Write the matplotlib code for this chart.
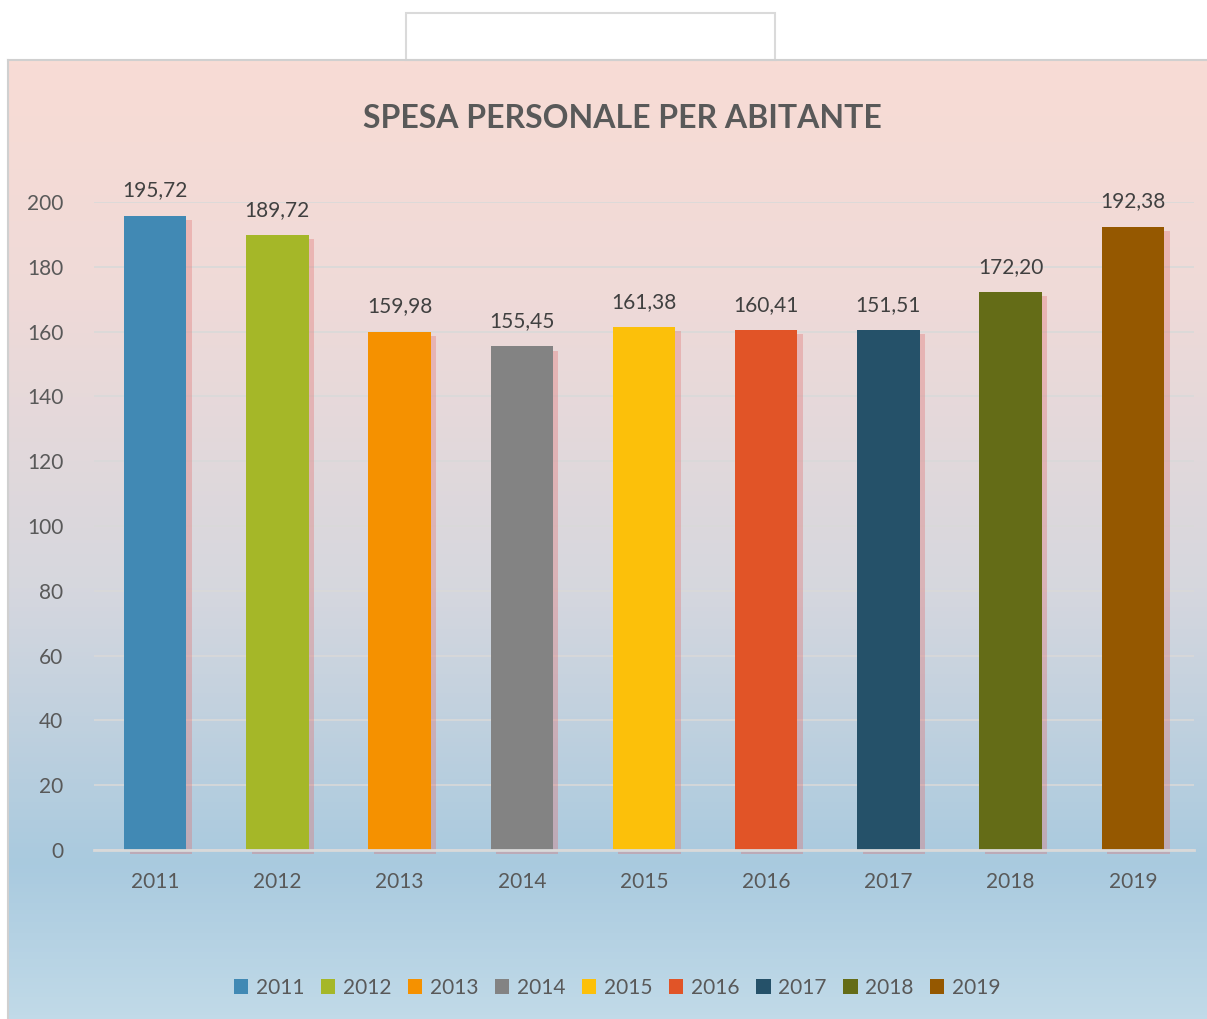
import numpy as np
import matplotlib
matplotlib.use("Agg")
import matplotlib.pyplot as plt
import matplotlib.patheffects as pe
from matplotlib.colors import LinearSegmentedColormap
from matplotlib.patches import Rectangle, Patch

plt.rcParams['font.family'] = ['Lato', 'DejaVu Sans']

# ---- data ----
years = ["2011", "2012", "2013", "2014", "2015", "2016", "2017", "2018", "2019"]
values = [195.72, 189.72, 159.98, 155.45, 161.38, 160.41, 160.5, 172.20, 192.38]
value_labels = ["195,72", "189,72", "159,98", "155,45", "161,38", "160,41", "151,51", "172,20", "192,38"]
colors = ["#4189B4", "#A5B728", "#F59100", "#838383", "#FCC00A",
          "#E15427", "#255169", "#646C17", "#955800"]
yticks = [0, 20, 40, 60, 80, 100, 120, 140, 160, 180, 200]
title = "SPESA PERSONALE PER ABITANTE"

W, H = 1207, 1019
fig = plt.figure(figsize=(W / 100, H / 100), dpi=100)
fig.patch.set_facecolor("white")

# background gradient frame
bg = fig.add_axes([8 / W, 0, 1 - 8 / W, (1019 - 60) / H], zorder=0)
cmap = LinearSegmentedColormap.from_list(
    "bg", [(0.0, "#C1DAE8"), (0.16, "#A9CADF"), (0.45, "#D6D7DE"),
           (0.75, "#EFDAD8"), (1.0, "#F8DCD5")])
grad = np.linspace(0, 1, 256).reshape(-1, 1)
bg.imshow(grad, aspect="auto", cmap=cmap, origin="lower", extent=[0, 1, 0, 1])
bg.set_xlim(0, 1)
bg.set_ylim(0, 1)
bg.axis("off")
# frame border (left and top)
fig.add_artist(plt.Line2D([8 / W, 8 / W], [0, (1019 - 60) / H], color="#D0D0D0", lw=1.5))
fig.add_artist(plt.Line2D([8 / W, 1], [(1019 - 60) / H] * 2, color="#D0D0D0", lw=1.5))
# faint box above
fig.add_artist(Rectangle((406 / W, (1019 - 60) / H), (775 - 406) / W, 47 / H,
                         fill=False, edgecolor="#DADADA", lw=1.5))

ax = fig.add_axes([94 / W, (1019 - 850) / H, (1194 - 94) / W, (850 - 202) / H], zorder=1)
ax.patch.set_alpha(0)
x = np.arange(len(years))
bars = ax.bar(x, values, width=0.51, color=colors, zorder=3, clip_on=False)
for b in bars:
    b.set_path_effects([pe.SimplePatchShadow(offset=(4, -3), shadow_rgbFace="#E07070", alpha=0.35),
                        pe.Normal()])

for xi, v, lab in zip(x, values, value_labels):
    ax.annotate(lab, (xi, v), xytext=(0, 11), textcoords="offset points",
                ha="center", va="bottom", fontsize=15, color="#404040", clip_on=False)

ax.set_xlim(-0.5, len(years) - 0.5)
ax.set_ylim(0, 200)
ax.set_yticks(yticks)
ax.set_xticks(x)
ax.set_xticklabels(years)
ax.tick_params(axis="both", length=0, labelsize=15, labelcolor="#595959")
ax.tick_params(axis="y", pad=22)
ax.tick_params(axis="x", pad=16)
ax.grid(axis="y", color="#D9D9D9", lw=1.2, zorder=0)
ax.set_axisbelow(True)
for s in ["top", "right", "left"]:
    ax.spines[s].set_visible(False)
ax.spines["bottom"].set_color("#D9D9D9")
ax.spines["bottom"].set_linewidth(2)
ax.spines["bottom"].set_zorder(4)

fig.text(622 / W, 1 - 118 / H, title, ha="center", va="center",
         fontsize=23, fontweight="bold", color="#595959")

handles = [Patch(facecolor=c, edgecolor="none", label=y) for c, y in zip(colors, years)]
fig.legend(handles=handles, loc="center", bbox_to_anchor=(617 / W, 1 - 988 / H),
           ncol=len(years), frameon=False, fontsize=15, labelcolor="#595959",
           handlelength=0.7, handleheight=0.7, handletextpad=0.35, columnspacing=0.8)

fig.savefig("out.png", dpi=100)
